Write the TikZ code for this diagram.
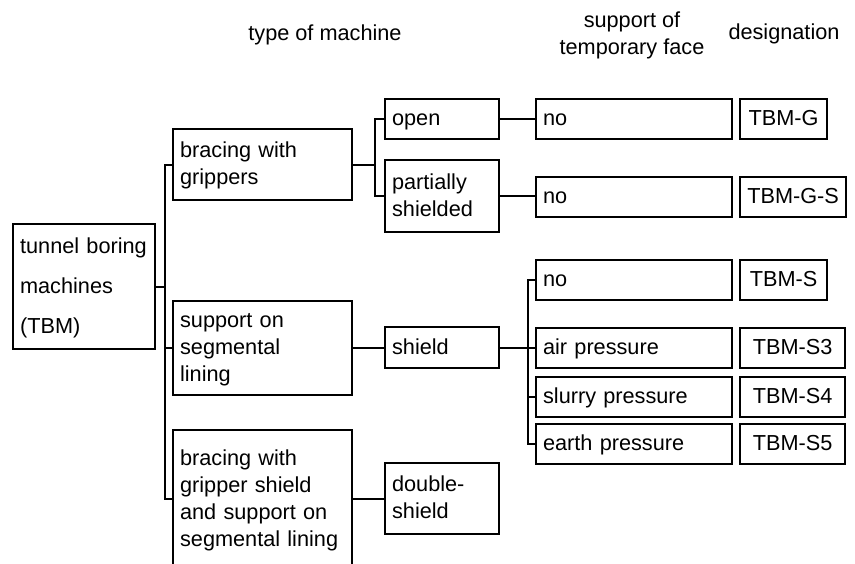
\documentclass[tikz,border=0pt]{standalone}
\usepackage{fontspec}
\setmainfont{Liberation Sans}
\newcommand\fsz{\fontsize{21.7pt}{27pt}\selectfont}
\newcommand\strt{\rule[-7pt]{0pt}{27pt}}
\tikzset{
  box/.style={draw, line width=2.2pt, anchor=north west, inner xsep=7pt, inner ysep=0pt,
    align=left, font=\fsz, execute at begin node=\strt, execute at end node=\strt},
  link/.style={line width=2.2pt},
  hdr/.style={font=\fsz, inner sep=0pt, align=center}
}
\begin{document}
\begin{tikzpicture}[x=1pt,y=-1pt]
    \useasboundingbox (0,0) rectangle (855,563);
    % column headings
    \node[hdr,anchor=base] (hmach) at (325,40) {type of machine};
    \node[hdr] (hface) at (632,35) {support of\\temporary face};
    \node[hdr,anchor=base] (hdes) at (784,39) {designation};

    % machine types
    \node[box,font=\fontsize{21.7pt}{40pt}\selectfont,text width=128pt,minimum height=125pt] (tbm) at (12,223) {tunnel boring\\machines\\(TBM)};
    \node[box,text width=165pt,minimum height=71pt] (grip) at (172,128) {bracing with\\grippers};
    \node[box,text width=165pt,minimum height=94pt] (seg) at (172,300) {support on\\segmental\\lining};
    \node[box,text width=165pt,minimum height=138pt] (gshd) at (172,429) {bracing with\\gripper shield\\and support on\\segmental lining};
    \node[box,text width=100pt,minimum height=40pt] (open) at (384,98) {open};
    \node[box,text width=100pt,minimum height=72pt] (part) at (384,159) {partially\\shielded};
    \node[box,text width=100pt,minimum height=41pt] (shd) at (384,326) {shield};
    \node[box,text width=100pt,minimum height=71pt] (dbl) at (384,462) {double-\\shield};

    % face support and designation
    \foreach \n/\y/\fc/\des/\bw in {g/98/no/TBM-G/87, gs/175.5/no/TBM-G-S/106, s/259/no/TBM-S/87,
        sa/327/air pressure/TBM-S3/105, ss/376/slurry pressure/TBM-S4/105, se/423/earth pressure/TBM-S5/105} {
        \node[box,text width=182pt,minimum height=40pt] (f\n) at (535,\y) {\fc};
        \node[box,align=center,minimum width=\bw pt,minimum height=40pt] (d\n) at (739,\y) {\des};
    }

    % connectors
    \draw[link] (tbm.east) -- ++(9,0) coordinate (t1);
    \foreach \c in {grip,seg,gshd} \draw[link] (t1) |- (\c.west);
    \draw[link] (grip.east) -- ++(22,0) coordinate (t2);
    \foreach \c in {open,part} \draw[link] (t2) |- (\c.west);
    \draw[link] (open.east) -- (fg.west);
    \draw[link] (part.east) -- (part.east -| fgs.west);
    \draw[link] (seg.east) -- (seg.east -| shd.west);
    \draw[link] (gshd.east) -- (gshd.east -| dbl.west);
    \draw[link] (shd.east) -- ++(28,0) coordinate (t3);
    \foreach \c in {fs,fsa,fss,fse} \draw[link] (t3) |- (\c.west);
\end{tikzpicture}
\end{document}
